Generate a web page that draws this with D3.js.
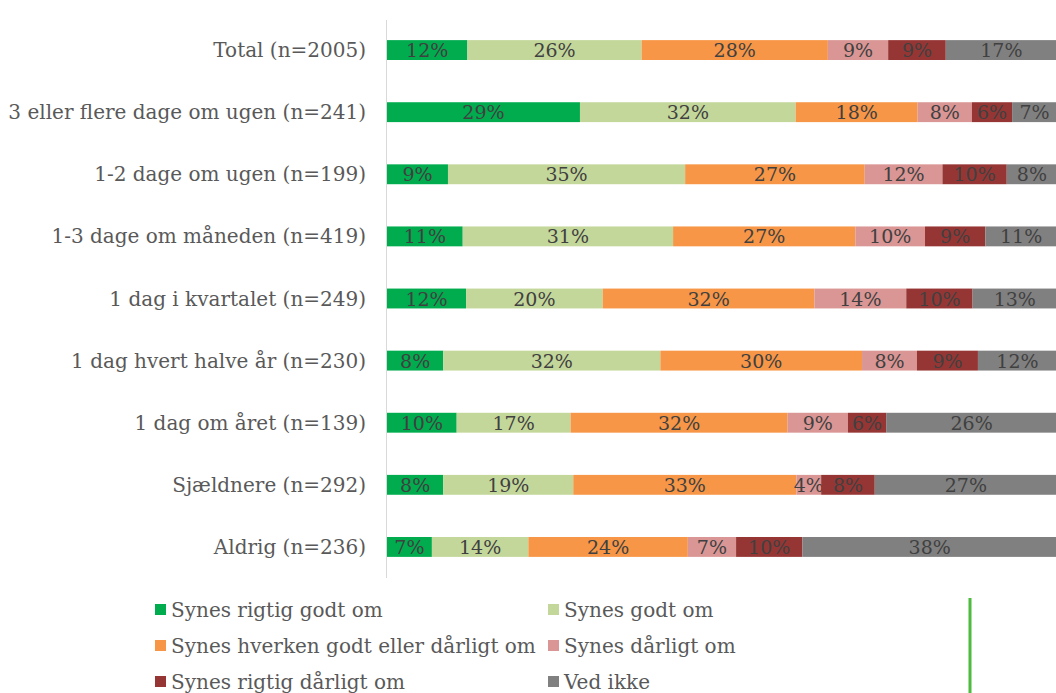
<!DOCTYPE html>
<html>
<head>
<meta charset="utf-8">
<script src="https://d3js.org/d3.v7.min.js"></script>
<style>
  body { margin: 0; background: #fff; }
  text { font-family: "DejaVu Serif", serif; }
</style>
</head>
<body>
<div class="chart"></div>
<script>
// categories, top to bottom
var categories = [
  "Total (n=2005)",
  "3 eller flere dage om ugen (n=241)",
  "1-2 dage om ugen (n=199)",
  "1-3 dage om måneden (n=419)",
  "1 dag i kvartalet (n=249)",
  "1 dag hvert halve år (n=230)",
  "1 dag om året (n=139)",
  "Sjældnere (n=292)",
  "Aldrig (n=236)"
];

var seriesNames = [
  "Synes rigtig godt om",
  "Synes godt om",
  "Synes hverken godt eller dårligt om",
  "Synes dårligt om",
  "Synes rigtig dårligt om",
  "Ved ikke"
];

var seriesColors = ["#00ac4e", "#c4d79b", "#f79646", "#da9694", "#963634", "#808080"];

// values per series, one per category (percent)
var rigtigGodt     = [12.0, 28.8,  9.1, 11.3, 11.8,  8.4, 10.4,  8.4,  6.7];
var godt           = [26.0, 32.2, 35.4, 31.4, 20.4, 32.4, 17.0, 19.4, 14.4];
var hverken        = [27.8, 18.2, 26.8, 27.2, 31.6, 30.1, 32.4, 33.3, 23.8];
var daarligt       = [ 9.0,  8.1, 11.6, 10.4, 13.7,  8.2,  9.0,  3.7,  7.2];
var rigtigDaarligt = [ 8.6,  6.0,  9.6,  9.0,  9.9,  9.1,  5.7,  8.0,  9.9];
var vedIkke        = [16.6,  6.7,  7.5, 10.7, 12.6, 11.8, 25.5, 27.2, 38.0];

var seriesValues = [rigtigGodt, godt, hverken, daarligt, rigtigDaarligt, vedIkke];

var svgWidth = 1056;
var svgHeight = 693;
var margin = { top: 19, left: 387 };
var plotWidth = 670;
var plotHeight = 559;

var svg = d3.select(".chart")
  .append("svg")
  .attr("width", svgWidth)
  .attr("height", svgHeight);

var x = d3.scaleLinear().domain([0, 100]).range([margin.left, margin.left + plotWidth]);
var y = d3.scaleBand().domain(categories)
  .range([margin.top, margin.top + plotHeight])
  .paddingInner(0.68).paddingOuter(0.34);

// build rows for stacking
var table = categories.map(function(c, i) {
  var row = { cat: c };
  seriesNames.forEach(function(s, j) { row[s] = seriesValues[j][i]; });
  return row;
});
var stacked = d3.stack().keys(seriesNames)(table);

var groups = svg.selectAll("g.series")
  .data(stacked)
  .enter().append("g")
  .attr("class", "series")
  .attr("fill", function(d, i) { return seriesColors[i]; });

groups.selectAll("rect")
  .data(function(d) { return d; })
  .enter().append("rect")
  .attr("x", function(d) { return x(d[0]); })
  .attr("y", function(d) { return y(d.data.cat); })
  .attr("width", function(d) { return x(d[1]) - x(d[0]); })
  .attr("height", y.bandwidth());

groups.selectAll("text")
  .data(function(d) { return d; })
  .enter().append("text")
  .attr("x", function(d) { return (x(d[0]) + x(d[1])) / 2; })
  .attr("y", function(d) { return y(d.data.cat) + y.bandwidth() / 2 + 7; })
  .attr("text-anchor", "middle")
  .attr("font-size", "19px")
  .attr("fill", "#404040")
  .text(function(d) { return Math.round(d[1] - d[0]) + "%"; });

// vertical axis line
svg.append("line")
  .attr("x1", margin.left - 0.5).attr("x2", margin.left - 0.5)
  .attr("y1", 20).attr("y2", 578)
  .attr("stroke", "#d9d9d9")
  .attr("stroke-width", 1);

// category labels
var leftAxis = d3.axisLeft(y).tickSize(0).tickPadding(21);
var axisG = svg.append("g")
  .attr("transform", "translate(" + margin.left + ",0)")
  .call(leftAxis);
axisG.select(".domain").remove();
axisG.selectAll("text")
  .attr("font-family", "DejaVu Serif")
  .attr("font-size", "20px")
  .attr("fill", "#595959")
  .attr("dy", "0.35em");

// legend
var legend = svg.append("g");
var legendItems = legend.selectAll("g")
  .data(seriesNames)
  .enter().append("g")
  .attr("transform", function(d, i) {
    var col = i % 2, row = Math.floor(i / 2);
    return "translate(" + (col === 0 ? 155 : 548) + "," + (610 + row * 36) + ")";
  });
legendItems.append("rect")
  .attr("x", 0).attr("y", -6)
  .attr("width", 11).attr("height", 11)
  .attr("fill", function(d, i) { return seriesColors[i]; });
legendItems.append("text")
  .attr("x", 16).attr("y", 7)
  .attr("font-size", "20px")
  .attr("fill", "#595959")
  .text(function(d) { return d; });

// green vertical line at bottom right
svg.append("line")
  .attr("x1", 970).attr("x2", 970)
  .attr("y1", 598).attr("y2", 693)
  .attr("stroke", "#4cbb3f")
  .attr("stroke-width", 3);
</script>
</body>
</html>
